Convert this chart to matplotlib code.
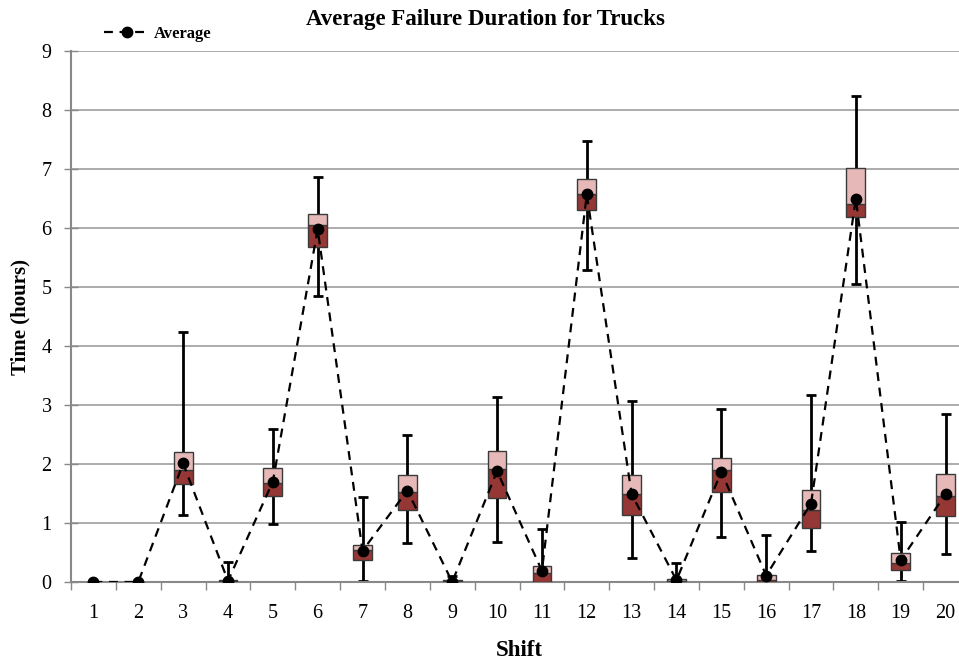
import numpy as np
import matplotlib
matplotlib.use("Agg")
from matplotlib import pyplot as plt

# failure duration stats per shift (hours); nan = no failures recorded
shifts = np.arange(1, 21)
wmin = [np.nan, np.nan, 1.14, 0.00, 0.98, 4.84, 0.02, 0.66, 0.00, 0.67,
        0.00, 5.29, 0.40, 0.00, 0.77, 0.00, 0.53, 5.05, 0.01, 0.47]
q1 = [np.nan, np.nan, 1.66, 0.00, 1.46, 5.68, 0.37, 1.22, 0.00, 1.43,
      0.00, 6.31, 1.13, 0.00, 1.53, 0.00, 0.91, 6.19, 0.20, 1.12]
median = [np.nan, np.nan, 1.89, 0.01, 1.68, 6.05, 0.55, 1.53, 0.01, 1.91,
          0.16, 6.58, 1.50, 0.01, 1.90, 0.03, 1.22, 6.41, 0.33, 1.46]
q3 = [np.nan, np.nan, 2.21, 0.03, 1.93, 6.24, 0.63, 1.81, 0.03, 2.22,
      0.27, 6.83, 1.81, 0.05, 2.11, 0.12, 1.56, 7.01, 0.50, 1.83]
wmax = [np.nan, np.nan, 4.24, 0.34, 2.59, 6.87, 1.44, 2.50, 0.11, 3.13,
        0.90, 7.48, 3.06, 0.33, 2.93, 0.79, 3.17, 8.24, 1.01, 2.84]
average = [0.00, 0.00, 2.01, 0.02, 1.70, 5.98, 0.53, 1.55, 0.00, 1.88,
           0.19, 6.57, 1.49, 0.03, 1.87, 0.11, 1.33, 6.50, 0.37, 1.49]

wmin, q1, median, q3, wmax, average = (np.array(a) for a in
                                       (wmin, q1, median, q3, wmax, average))
has = ~np.isnan(median)

plt.rcParams["font.family"] = ["Liberation Serif", "DejaVu Serif"]

fig = plt.figure(figsize=(9.59, 6.61), dpi=100)
ax = fig.add_axes([71 / 959, 79 / 661, 897 / 959, 531 / 661])

dark = "#953735"
light = "#E6B9B8"
edge = "#3a3a3a"
bw = 0.42

# whiskers behind the boxes
ax.errorbar(shifts[has], median[has],
            yerr=[median[has] - wmin[has], wmax[has] - median[has]],
            fmt="none", ecolor="black", elinewidth=2, capsize=3.5,
            capthick=2, zorder=2)

# lower half (Q1-median) and upper half (median-Q3) of each box
ax.bar(shifts[has], median[has] - q1[has], bottom=q1[has], width=bw,
       color=dark, edgecolor=edge, linewidth=1, zorder=3)
ax.bar(shifts[has], q3[has] - median[has], bottom=median[has], width=bw,
       color=light, edgecolor=edge, linewidth=1, zorder=3)

line, = ax.plot(shifts, average, color="black", linestyle=(0, (4, 3)),
                linewidth=1.6, marker="o", markersize=7.5, zorder=4,
                label="Average")

ax.set_xlim(0.5, 20.5)
ax.set_ylim(0, 9)
ax.set_yticks(range(0, 10))
ax.set_xticks(shifts)
ax.set_xticks(np.arange(0.5, 20.6, 1), minor=True)
ax.tick_params(axis="x", which="major", length=0, pad=16, labelsize=14.5)
ax.tick_params(axis="x", which="minor", length=6, color="#888888",
               direction="out", width=1)
ax.tick_params(axis="y", length=10, direction="inout", color="#888888",
               width=1, labelsize=14.5, pad=9)

ax.grid(axis="y", color="#a6a6a6", linewidth=1.3, zorder=0)
ax.set_axisbelow(True)
for side in ("top", "right"):
    ax.spines[side].set_visible(False)
for side in ("left", "bottom"):
    ax.spines[side].set_color("#888888")
    ax.spines[side].set_linewidth(1.5)

ax.set_xlabel("Shift", fontsize=16.5, fontweight="bold", labelpad=12)
ax.set_ylabel("Time (hours)", fontsize=15, fontweight="bold", labelpad=8)
fig.text(485 / 959, 1 - 19 / 661, "Average Failure Duration for Trucks",
         ha="center", va="center", fontsize=16.5, fontweight="bold")

fig.legend(handles=[line], loc="center left",
           bbox_to_anchor=(96 / 959, 1 - 34 / 661), frameon=False,
           prop={"weight": "bold", "size": 12}, handlelength=2.7,
           handletextpad=0.3, borderpad=0)

fig.savefig("out.png", dpi=100)
